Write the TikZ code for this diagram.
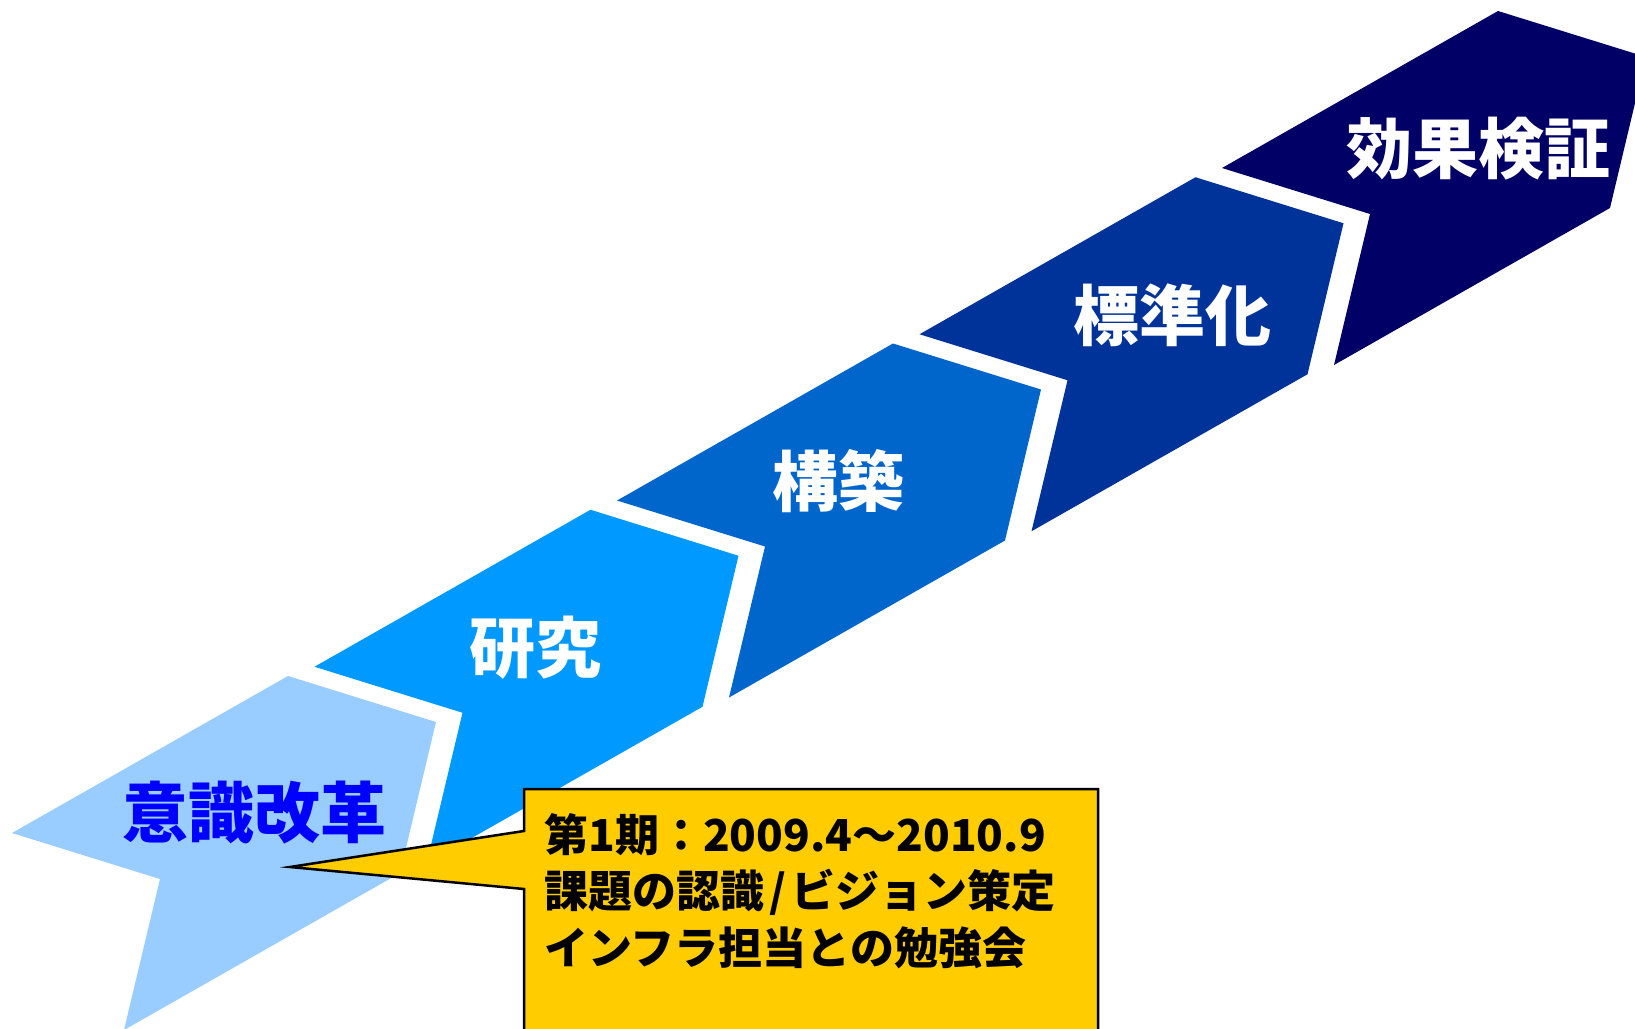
\documentclass[tikz,border=0pt]{standalone}
\usepackage{fontspec}
\newfontfamily\jp{Noto Sans CJK JP}
\definecolor{c0}{HTML}{99CCFF}
\definecolor{c1}{HTML}{0099FF}
\definecolor{c2}{HTML}{0066CC}
\definecolor{c3}{HTML}{003399}
\definecolor{c4}{HTML}{000066}
\definecolor{callfill}{HTML}{FFCC00}
\definecolor{txtblue}{HTML}{0000FF}
\tikzset{
  chev/.style={draw=none},
  steplabel/.style={font=\jp\bfseries\fontsize{66}{72}\selectfont, inner sep=0pt, anchor=center},
  calltext/.style={font=\jp\bfseries\fontsize{44}{50}\selectfont, inner sep=0pt, anchor=base west, text=black},
  callbox/.style={fill=callfill, draw=black, line width=2.5, line join=miter}
}
\begin{document}
\begin{tikzpicture}[x=1pt,y=-1pt]
\useasboundingbox (0,0) rectangle (1635,1028);
\clip (0,0) rectangle (1635,1028);
\fill[white] (0,0) rectangle (1635,1028);
% chevrons
\foreach \k/\col in {0/c0,1/c1,2/c2,3/c3,4/c4}{
  \fill[chev, fill=\col, shift={(288+302.5*\k,676-166.25*\k)}]
    (0,0) -- (148,46) -- (112,197) -- (-164,354) -- (-128,203) -- (-276,157) -- cycle;
}
% labels
\node[steplabel, text=txtblue] (l0) at (254,813) {意識改革};
\node[steplabel, text=white] (l1) at (535,648) {研究};
\node[steplabel, text=white] (l2) at (838,481) {構築};
\node[steplabel, text=white] (l3) at (1172,315) {標準化};
\node[steplabel, text=white] (l4) at (1478,149) {効果検証};
% callout
\coordinate (tip) at (290,867);
\draw[callbox] (524,1045) -- (524,889) -- (tip) -- (524,831) -- (524,789) -- (1098,789) -- (1098,1045);
\node[calltext] (t1) at (544,851) {第1期：2009.4～2010.9};
\node[calltext] (t2) at (544,907) {課題の認識\hspace{5pt}/\hspace{5pt}ビジョン策定};
\node[calltext] (t3) at (544,964) {インフラ担当との勉強会};
\end{tikzpicture}
\end{document}
